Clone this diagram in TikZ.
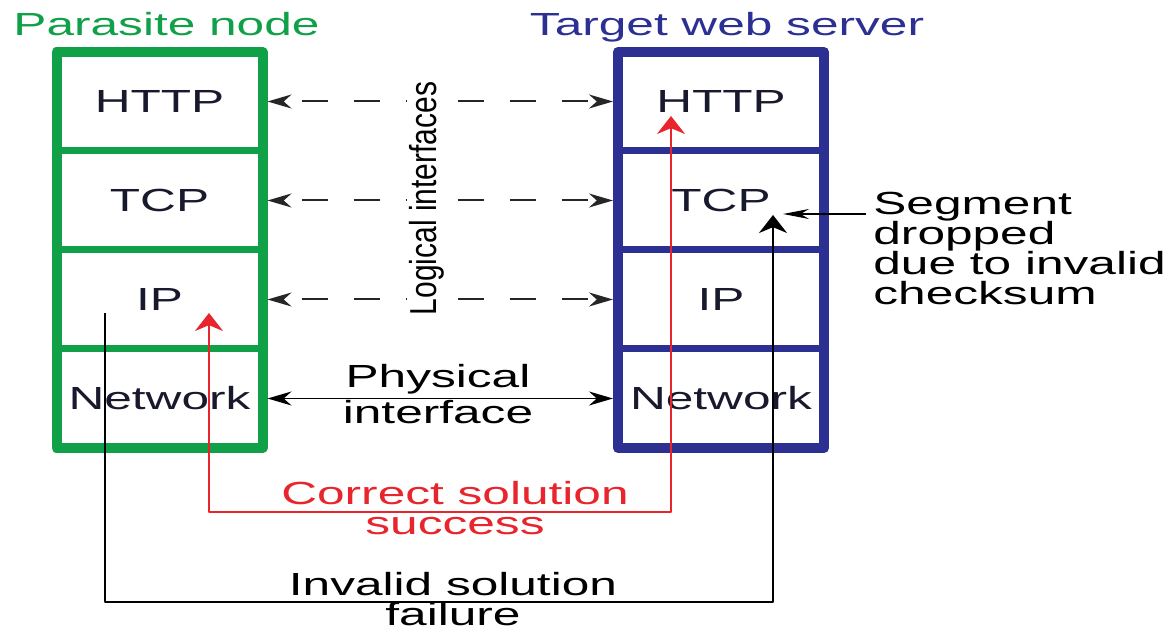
\documentclass[tikz,border=0pt]{standalone}
\usepackage{fontspec}
\setmainfont{Liberation Sans}[FakeStretch=1.55]
\newfontfamily\uprightsans{Liberation Sans}
\usepackage{tikz}
\usetikzlibrary{arrows.meta,positioning}
\definecolor{paragreen}{RGB}{16,160,72}
\definecolor{serverblue}{RGB}{44,48,146}
\definecolor{okred}{RGB}{232,36,44}
\definecolor{labelink}{RGB}{25,25,45}
\newcommand\labelfont{\fontsize{16}{15}\selectfont\lineskiplimit=-6pt\relax}

\begin{document}
\begin{tikzpicture}[x=0.5pt,y=0.5pt,line join=round,
  font=\labelfont,
  cell/.style={draw,line width=3.5pt,minimum width=103pt,minimum height=49.5pt,
    inner sep=0pt,outer sep=0pt,text=labelink},
  frame/.style={line width=5pt},
  txt/.style={inner sep=1pt,align=center},
  iface/.style={{Stealth[length=12pt,width=7pt]}-{Stealth[length=12pt,width=7pt]},
    line width=1pt,black!85,dash pattern=on 13pt off 13pt,dash phase=16.5pt,
    shorten <=2.5pt,shorten >=2.5pt},
  phys/.style={{Stealth[length=12pt,width=7pt]}-{Stealth[length=12pt,width=7pt]},
    line width=0.8pt,shorten <=2.5pt,shorten >=2.5pt}]
\useasboundingbox (0,0) rectangle (1176,631);

\node[anchor=base,text=paragreen] (ptitle) at (166.5,595) {Parasite node};
\node[anchor=base,text=serverblue] (ttitle) at (727,595) {Target web server};

\node[cell,draw=paragreen] (pHTTP) at (159.5,529.5) {HTTP};
\node[cell,draw=paragreen,below=0pt of pHTTP] (pTCP) {TCP};
\node[cell,draw=paragreen,below=0pt of pTCP] (pIP) {IP};
\node[cell,draw=paragreen,below=0pt of pIP] (pNet) {Network};
\draw[frame,paragreen] (pHTTP.north west) rectangle (pNet.south east);

\node[cell,draw=serverblue] (tHTTP) at (721,529.5) {HTTP};
\node[cell,draw=serverblue,below=0pt of tHTTP] (tTCP) {TCP};
\node[cell,draw=serverblue,below=0pt of tTCP] (tIP) {IP};
\node[cell,draw=serverblue,below=0pt of tIP] (tNet) {Network};
\draw[frame,serverblue] (tHTTP.north west) rectangle (tNet.south east);

\draw[iface] (pHTTP.east) -- (tHTTP.west);
\draw[iface] (pTCP.east) -- (tTCP.west);
\draw[iface] (pIP.east) -- (tIP.west);
\node[txt,rotate=90,yscale=1.25,fill=white,font=\uprightsans\fontsize{15}{15}\selectfont] (logic) at (427,432.5) {Logical interfaces};

\draw[phys] (pNet.east) -- (tNet.west);
\node[txt] (physlbl) at (438,236.7) {Physical\\[3pt]interface};

\coordinate (okP) at (209,318);
\coordinate (okT) at (671,515);
\draw[okred,line width=1pt,{Stealth[length=9pt,width=14pt]}-{Stealth[length=9pt,width=14pt]}] (okP) -- (209,119) -| (okT);
\node[txt,text=okred] (corrlbl) at (455,123.2) {Correct solution\\success};

\coordinate (badP) at (104.5,318);
\coordinate (badT) at (773,416);
\draw[line width=1pt,-{Stealth[length=9pt,width=14pt]}] (badP) -- (104.5,29) -| (badT);
\node[txt] (invlbl) at (453,31.5) {Invalid solution\\failure};

\node[txt,align=left,anchor=west] (seglbl) at (871,382.2) {Segment\\dropped\\due to invalid\\checksum};
\coordinate (segtail) at (866,417);
\coordinate (segtip) at (783,417);
\draw[line width=0.6pt,-{Stealth[length=13pt,width=5pt]}] (segtail) -- (segtip);
\end{tikzpicture}
\end{document}
